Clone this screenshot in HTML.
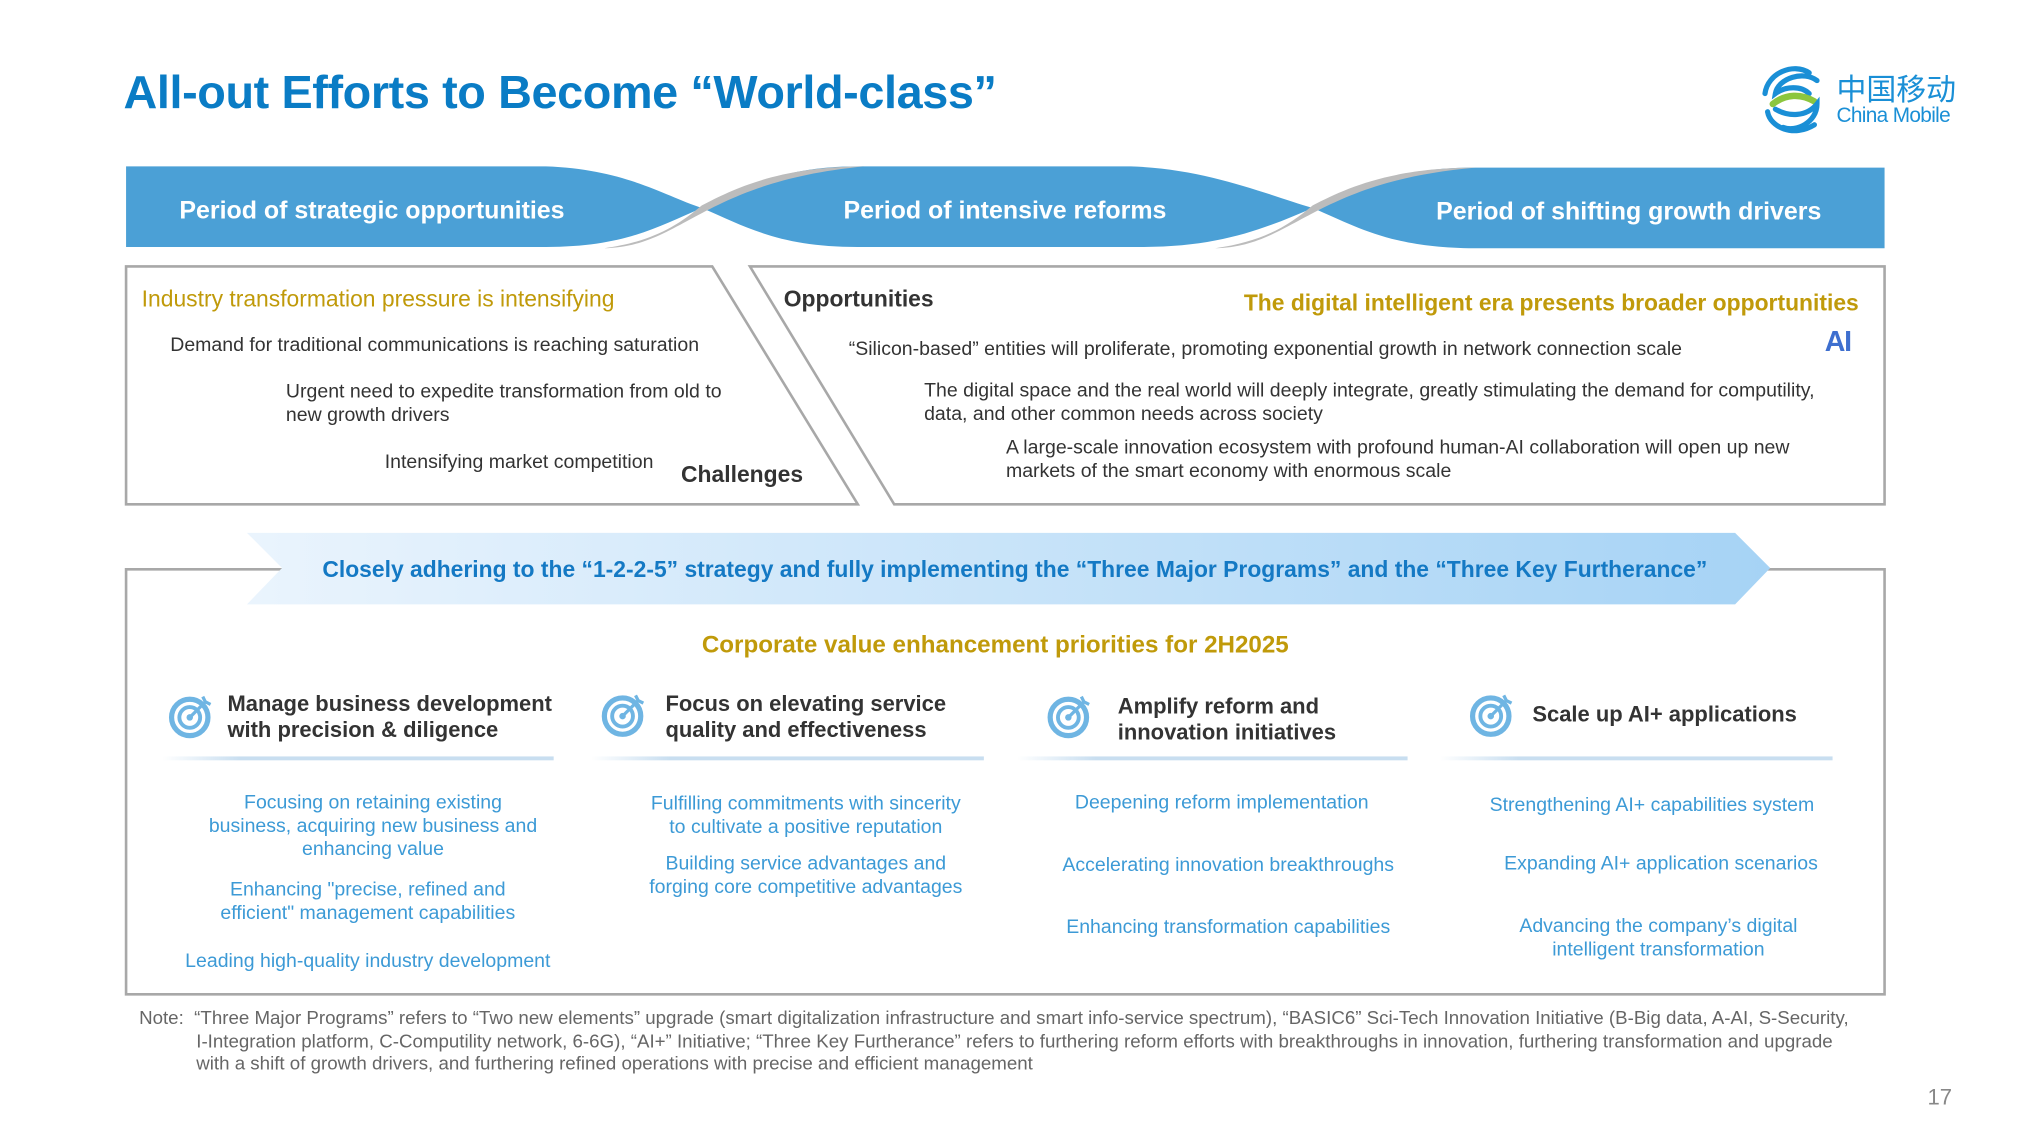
<!DOCTYPE html>
<html><head><meta charset="utf-8"><style>
html,body{margin:0;padding:0;background:#fff;width:2038px;height:1146px;overflow:hidden}
#s{position:absolute;left:0;top:0;width:1568px;height:882px;transform:scale(1.2997);transform-origin:0 0;font-family:"Liberation Sans","Noto Sans CJK SC",sans-serif;}
.t{position:absolute;white-space:nowrap}
.it{color:#333;font-size:15px}
.bl{color:#3c9ad6;font-size:15px;text-align:center;position:absolute;line-height:18px;white-space:nowrap}
.hd{position:absolute;color:#333;font-weight:bold;font-size:16.9px;line-height:20px;white-space:nowrap}
.sep{position:absolute;height:3px;background:linear-gradient(90deg,rgba(200,222,240,0),#c8def0 20%,#c8def0)}
</style></head><body><div id="s">
<div class="t" style="left:95px;top:50px;font-size:36px;font-weight:bold;color:#0a7cc5;letter-spacing:-0.3px">All-out Efforts to Become “World-class”</div>

<svg style="position:absolute;left:1352px;top:50px" width="60" height="54" viewBox="0 0 60 54">
<g fill="none" stroke-linecap="round">
<path d="M40 6 C28 -2 8 6 6 22" stroke="#1a8fd6" stroke-width="4"/>
<path d="M46 12 C36 4 16 10 14 22 C22 16 34 16 40 22" stroke="#1a8fd6" stroke-width="4"/>
<path d="M12 30 C22 22 34 22 44 28" stroke="#8cc63e" stroke-width="5"/>
<path d="M14 34 C24 40 38 40 46 30 C46 44 30 52 20 48" stroke="#1a8fd6" stroke-width="4"/>
<path d="M8 36 C10 48 28 56 44 46" stroke="#1a8fd6" stroke-width="4"/>
</g></svg>
<div class="t" style="left:1413px;top:54px;font-size:23px;color:#1a8fd6;font-family:'Noto Sans CJK SC',sans-serif;line-height:26px">中国移动</div>
<div class="t" style="left:1413px;top:81px;font-size:16px;color:#1a8fd6;letter-spacing:-0.5px">China Mobile</div>

<svg style="position:absolute;left:0;top:0" width="1568" height="882">
<defs><linearGradient id="ag" x1="0" x2="1"><stop offset="0" stop-color="#eaf4fd"/><stop offset="1" stop-color="#a6d3f5"/></linearGradient></defs>
<g fill="#4ba0d6">
<path d="M97 128 L420 128 C480 130 510 150 540 160 C505 175 480 190 420 190 L97 190 Z"/>
<path d="M540 160 C575 145 600 128 660 128 L870 128 C930 130 975 150 1010 160 C975 175 940 190 880 190 L660 190 C600 190 575 175 540 160 Z"/>
<path d="M1010 160 C1045 145 1070 130 1130 129 L1450 129 L1450 191 L1130 191 C1070 190 1045 175 1010 160 Z"/>
</g>
<g fill="#bcbcbc">
<path d="M465 191 C525 190 540 140 665 128 C600 128 565 145 540 158 C520 175 500 186 465 191 Z"/>
<path d="M935 191 C995 190 1010 140 1135 129 C1070 129 1035 145 1010 158 C990 175 970 186 935 191 Z"/>
</g>
<g fill="none" stroke="#a8a8a8" stroke-width="2">
<path d="M97 205 L548 205 L660 388 L97 388 Z"/>
<path d="M577 205 L1450 205 L1450 388 L688 388 Z"/>
<path d="M217 438 L97 438 L97 765 L1450 765 L1450 438 L1350 438"/>
</g>
<path d="M190 410 L1335 410 L1362 437 L1335 465 L190 465 L217 437 Z" fill="url(#ag)"/>
</svg>

<div class="t" style="left:138px;top:152px;font-size:19.2px;font-weight:bold;color:#fff">Period of strategic opportunities</div>
<div class="t" style="left:649px;top:152px;font-size:19.2px;font-weight:bold;color:#fff">Period of intensive reforms</div>
<div class="t" style="left:1105px;top:153px;font-size:19.2px;font-weight:bold;color:#fff">Period of shifting growth drivers</div>

<div class="t" style="left:109px;top:220px;font-size:17.6px;color:#c09a0a">Industry transformation pressure is intensifying</div>
<div class="t it" style="left:131px;top:257px">Demand for traditional communications is reaching saturation</div>
<div class="t it" style="left:220px;top:293px;line-height:18px">Urgent need to expedite transformation from old to<br>new growth drivers</div>
<div class="t it" style="left:296px;top:347px">Intensifying market competition</div>
<div class="t" style="left:524px;top:355px;font-size:17.6px;font-weight:bold;color:#333">Challenges</div>

<div class="t" style="left:603px;top:220px;font-size:17.6px;font-weight:bold;color:#333">Opportunities</div>
<div class="t" style="left:957px;top:223px;font-size:17.6px;font-weight:bold;color:#c09a0a">The digital intelligent era presents broader opportunities</div>
<div class="t" style="left:1404px;top:250px;font-size:22px;font-weight:bold;color:#3e6fcf;letter-spacing:-1px">AI</div>
<div class="t it" style="left:653px;top:260px">“Silicon-based” entities will proliferate, promoting exponential growth in network connection scale</div>
<div class="t it" style="left:711px;top:292px;line-height:18px">The digital space and the real world will deeply integrate, greatly stimulating the demand for computility,<br>data, and other common needs across society</div>
<div class="t it" style="left:774px;top:336px;line-height:18px">A large-scale innovation ecosystem with profound human-AI collaboration will open up new<br>markets of the smart economy with enormous scale</div>

<div class="t" style="left:248px;top:428px;font-size:17.6px;font-weight:bold;color:#1479c4">Closely adhering to the “1-2-2-5” strategy and fully implementing the “Three Major Programs” and the “Three Key Furtherance”</div>
<div class="t" style="left:540px;top:485px;font-size:18.6px;font-weight:bold;color:#c09a0a">Corporate value enhancement priorities for 2H2025</div>

<svg style="position:absolute;left:0;top:0" width="1568" height="882">
<defs><g id="ic"><circle cx="0" cy="0" r="14" fill="none" stroke="#6fb5e3" stroke-width="4"/><circle cx="0" cy="0" r="8" fill="none" stroke="#6fb5e3" stroke-width="3"/><circle cx="0" cy="0" r="2.5" fill="#6fb5e3"/><path d="M0 0 L12 -12 M10 -16 L12 -12 L16 -10" stroke="#6fb5e3" stroke-width="2.5" fill="none"/></g></defs>
<use href="#ic" x="146" y="552"/><use href="#ic" x="479" y="551"/><use href="#ic" x="822" y="552"/><use href="#ic" x="1147" y="551"/>
</svg>
<div class="hd" style="left:175px;top:532px">Manage business development<br>with precision &amp; diligence</div>
<div class="hd" style="left:512px;top:532px">Focus on elevating service<br>quality and effectiveness</div>
<div class="hd" style="left:860px;top:534px">Amplify reform and<br>innovation initiatives</div>
<div class="hd" style="left:1179px;top:540px">Scale up AI+ applications</div>
<div class="sep" style="left:125px;top:582px;width:301px"></div>
<div class="sep" style="left:455px;top:582px;width:302px"></div>
<div class="sep" style="left:783px;top:582px;width:300px"></div>
<div class="sep" style="left:1108px;top:582px;width:302px"></div>

<div class="bl" style="left:137px;top:609px;width:300px">Focusing on retaining existing<br>business, acquiring new business and<br>enhancing value</div>
<div class="bl" style="left:133px;top:676px;width:300px">Enhancing "precise, refined and<br>efficient" management capabilities</div>
<div class="bl" style="left:133px;top:731px;width:300px">Leading high-quality industry development</div>
<div class="bl" style="left:470px;top:610px;width:300px">Fulfilling commitments with sincerity<br>to cultivate a positive reputation</div>
<div class="bl" style="left:470px;top:656px;width:300px">Building service advantages and<br>forging core competitive advantages</div>
<div class="bl" style="left:790px;top:609px;width:300px">Deepening reform implementation</div>
<div class="bl" style="left:795px;top:657px;width:300px">Accelerating innovation breakthroughs</div>
<div class="bl" style="left:795px;top:705px;width:300px">Enhancing transformation capabilities</div>
<div class="bl" style="left:1121px;top:611px;width:300px">Strengthening AI+ capabilities system</div>
<div class="bl" style="left:1128px;top:656px;width:300px">Expanding AI+ application scenarios</div>
<div class="bl" style="left:1126px;top:704px;width:300px">Advancing the company’s digital<br>intelligent transformation</div>

<div class="t" style="left:107px;top:776px;font-size:14.4px;color:#666;line-height:17.5px">Note:&nbsp; “Three Major Programs” refers to “Two new elements” upgrade (smart digitalization infrastructure and smart info-service spectrum), “BASIC6” Sci-Tech Innovation Initiative (B-Big data, A-AI, S-Security,<br><span style="padding-left:44px">I-Integration platform, C-Computility network, 6-6G), “AI+” Initiative; “Three Key Furtherance” refers to furthering reform efforts with breakthroughs in innovation, furthering transformation and upgrade</span><br><span style="padding-left:44px">with a shift of growth drivers, and furthering refined operations with precise and efficient management</span></div>
<div class="t" style="left:1483px;top:835px;font-size:17px;color:#888">17</div>
</div></body></html>
